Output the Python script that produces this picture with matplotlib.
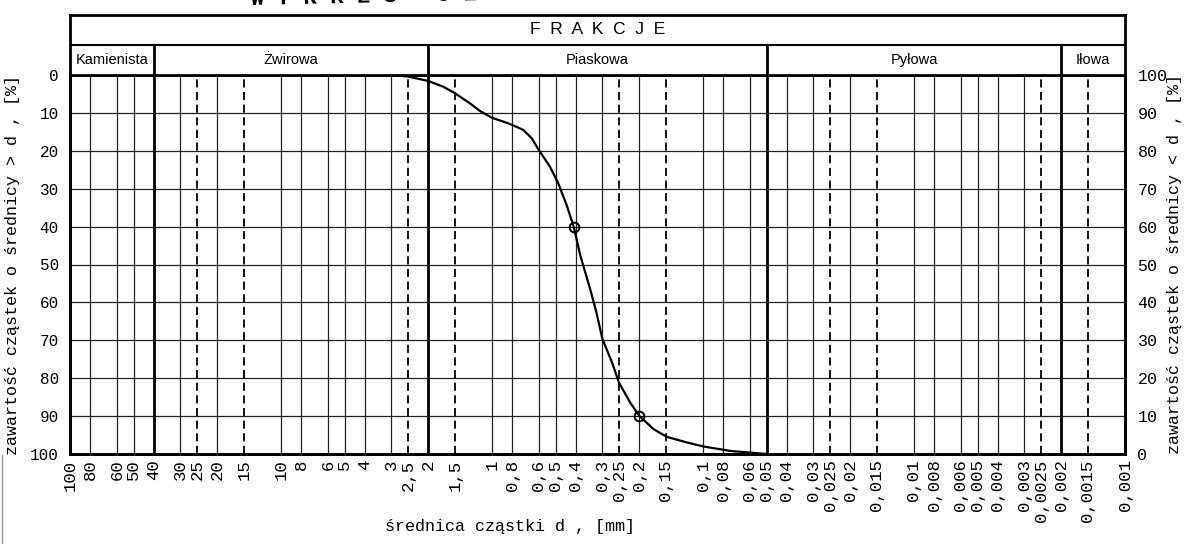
import matplotlib.pyplot as plt
from matplotlib.ticker import FixedLocator, NullLocator
from matplotlib.lines import Line2D

W, H = 1185, 544
MONO = "Liberation Mono"
SANS = "Liberation Sans"

# grain-size axis: printed diameters [mm]
d_ticks = [100, 80, 60, 50, 40, 30, 25, 20, 15, 10, 8, 6, 5, 4, 3, 2.5, 2, 1.5, 1,
           0.8, 0.6, 0.5, 0.4, 0.3, 0.25, 0.2, 0.15, 0.1, 0.08, 0.06, 0.05, 0.04,
           0.03, 0.025, 0.02, 0.015, 0.01, 0.008, 0.006, 0.005, 0.004, 0.003,
           0.0025, 0.002, 0.0015, 0.001]
dashed_d = [25, 15, 2.5, 1.5, 0.25, 0.15, 0.025, 0.015, 0.0025, 0.0015]
bounds_d = [40, 2, 0.05, 0.002]

fractions = ["Kamienista", "Żwirowa", "Piaskowa", "Pyłowa", "Iłowa"]
fraction_edges = [100, 40, 2, 0.05, 0.002, 0.001]

# grading curve: diameter [mm] vs. share of grains coarser than d [%]
curve_d = [3.0, 2.5, 2.0, 1.70, 1.5, 1.27, 1.14, 1.0, 0.883, 0.8, 0.711, 0.648,
           0.6, 0.531, 0.485, 0.443, 0.41, 0.382, 0.343, 0.32, 0.3, 0.27, 0.25,
           0.221, 0.2, 0.171, 0.148, 0.122, 0.1, 0.074, 0.05]
curve_p = [0, 0.4, 1.6, 3.1, 4.8, 7.5, 9.5, 11.3, 12.3, 13.2, 14.5, 16.7,
           19.8, 24.2, 28.6, 34.3, 40, 47.5, 56.4, 62.6, 69.6, 75.8, 81.2,
           86.5, 90, 93.5, 95.5, 96.8, 98.0, 99.2, 100]
# d60 / d10 points
marks_d = [0.41, 0.2]
marks_p = [40, 90]

y_ticks = [0, 10, 20, 30, 40, 50, 60, 70, 80, 90, 100]


def fmt(v):
    return f"{v:g}".replace(".", ",")


fig = plt.figure(figsize=(W / 100, H / 100), dpi=100)

ax = fig.add_axes([70 / W, 1 - 454 / H, 1055 / W, 379 / H])
ax.set_xscale("log")
ax.set_xlim(100, 0.001)
ax.set_ylim(100, 0)

# vertical grid: solid, dashed, and thick fraction boundaries
for d in d_ticks[1:-1]:
    if d in bounds_d:
        ax.axvline(d, color="black", lw=2.0, zorder=1)
    elif d in dashed_d:
        ax.axvline(d, color="black", lw=1.3, ls=(0, (4.5, 2.5)), zorder=1)
    else:
        ax.axvline(d, color="#222222", lw=0.9, zorder=1)
for p in y_ticks[1:-1]:
    ax.axhline(p, color="#222222", lw=0.9, zorder=1)

ax.plot(curve_d, curve_p, color="black", lw=1.6, zorder=3)
ax.plot(marks_d, marks_p, ls="none", marker="o", ms=7, mfc="none",
        mec="black", mew=1.4, zorder=4)

ax.xaxis.set_major_locator(FixedLocator(d_ticks))
ax.xaxis.set_minor_locator(NullLocator())
ax.set_xticklabels([fmt(d) for d in d_ticks], rotation=90, family=MONO, fontsize=12.5)
ax.set_yticks(y_ticks)
ax.set_yticklabels([str(p) for p in y_ticks], family=MONO, fontsize=11.5)
ax.tick_params(axis="x", length=0, pad=4)
ax.tick_params(axis="y", length=0, pad=8)
for s in ax.spines.values():
    s.set_linewidth(2.0)

ax_r = ax.twinx()
ax_r.set_ylim(0, 100)
ax_r.set_yticks(y_ticks)
ax_r.set_yticklabels([str(p) for p in y_ticks], family=MONO, fontsize=12)
ax_r.tick_params(axis="y", length=0, pad=9)
for s in ax_r.spines.values():
    s.set_linewidth(2.0)

ax.set_ylabel("zawartość cząstek o średnicy > d , [%]", family=MONO, fontsize=12,
              labelpad=7)
fig.text(1175 / W, 1 - 264 / H, "zawartość cząstek o średnicy < d , [%]",
         family=MONO, fontsize=12, rotation=90, ha="center", va="center")
fig.text(510 / W, 1 - 527 / H, "średnica cząstki d , [mm]", family=MONO,
         fontsize=12, ha="center", va="center")

# fraction header above the plot
hx = fig.add_axes([70 / W, 1 - 75 / H, 1055 / W, 60 / H], sharex=ax)
hx.set_ylim(0, 2)
hx.set_yticks([])
hx.tick_params(axis="x", which="both", length=0, labelbottom=False)
for s in hx.spines.values():
    s.set_linewidth(2.0)
hx.axhline(1, color="black", lw=1.5)
for d in bounds_d:
    hx.axvline(d, ymin=0, ymax=0.5, color="black", lw=2.0)
hx.text((100 * 0.001) ** 0.5, 1.5, "F  R  A  K  C  J  E", ha="center", va="center",
        family=SANS, fontsize=12.5)
for name, a, b in zip(fractions, fraction_edges[:-1], fraction_edges[1:]):
    hx.text((a * b) ** 0.5, 0.5, name, ha="center", va="center",
            family=SANS, fontsize=10.5)

# sheet title, only its lower edge shows at the top of the page
fig.text(250 / W, 1 - 5 / H, "W Y K R E S   U Z I A R N I E N I A", family=MONO,
         fontsize=16, fontweight="bold", ha="left", va="baseline",
         rotation=1.2, rotation_mode="anchor")

# page edge at the lower left
fig.add_artist(Line2D([1.5 / W, 1.5 / W], [0, 1 - 455 / H], transform=fig.transFigure,
                      color="#999999", lw=1.0))

fig.savefig("out.png", dpi=100, facecolor="white")
